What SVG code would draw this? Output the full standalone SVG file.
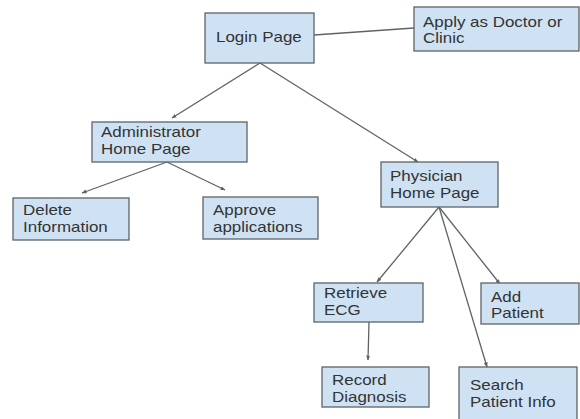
<svg xmlns="http://www.w3.org/2000/svg" width="580" height="419" viewBox="0 0 580 419">
<defs>
<style>
.box{fill:#cfe2f3;stroke:#5f6368;stroke-width:1.3}
.t{font-family:"Liberation Sans",Arial,sans-serif;font-size:15px;fill:#333333}
.c{stroke:#5f6368;stroke-width:1.3;fill:none}
.a{marker-end:url(#ah)}
</style>
<marker id="ah" viewBox="0 0 10 10" refX="9" refY="5" markerWidth="5" markerHeight="5" orient="auto" markerUnits="userSpaceOnUse">
<path d="M0,1 L10,5 L0,9 Z" fill="#5f6368"/>
</marker>
</defs>
<rect width="580" height="419" fill="#ffffff"/>
<g id="connectors">
<line class="c" x1="314" y1="35" x2="414" y2="28"/>
<line class="c a" x1="260" y1="63" x2="172" y2="118"/>
<line class="c a" x1="260" y1="63" x2="418" y2="162"/>
<line class="c a" x1="167" y1="162" x2="82" y2="193"/>
<line class="c a" x1="167" y1="162" x2="225" y2="190"/>
<line class="c a" x1="439" y1="207" x2="377" y2="282"/>
<line class="c a" x1="439" y1="207" x2="487" y2="367"/>
<line class="c a" x1="439" y1="207" x2="500" y2="284"/>
<line class="c a" x1="369" y1="322" x2="368" y2="360"/>
</g>
<g id="login"><rect class="box" x="205" y="13" width="109" height="50"/><text class="t" transform="translate(216,42) scale(1.13,1)">Login Page</text></g>
<g id="apply"><rect class="box" x="414" y="7" width="165" height="44"/><text class="t" transform="translate(423,27) scale(1.13,1)"><tspan x="0" y="0">Apply as Doctor or</tspan><tspan x="0" y="16.5">Clinic</tspan></text></g>
<g id="admin"><rect class="box" x="92" y="122" width="155" height="40"/><text class="t" transform="translate(101,137) scale(1.13,1)"><tspan x="0" y="0">Administrator</tspan><tspan x="0" y="17.5">Home Page</tspan></text></g>
<g id="delete"><rect class="box" x="13" y="198" width="116" height="42"/><text class="t" transform="translate(23,215) scale(1.13,1)"><tspan x="0" y="0">Delete</tspan><tspan x="0" y="17">Information</tspan></text></g>
<g id="approve"><rect class="box" x="203" y="197" width="115" height="42"/><text class="t" transform="translate(213,215) scale(1.13,1)"><tspan x="0" y="0">Approve</tspan><tspan x="0" y="17">applications</tspan></text></g>
<g id="physician"><rect class="box" x="381" y="162" width="117" height="45"/><text class="t" transform="translate(390,181) scale(1.13,1)"><tspan x="0" y="0">Physician</tspan><tspan x="0" y="17">Home Page</tspan></text></g>
<g id="retrieve"><rect class="box" x="314" y="283" width="109" height="39"/><text class="t" transform="translate(324,298) scale(1.13,1)"><tspan x="0" y="0">Retrieve</tspan><tspan x="0" y="17.5">ECG</tspan></text></g>
<g id="add"><rect class="box" x="481" y="283" width="98" height="41"/><text class="t" transform="translate(491,302) scale(1.13,1)"><tspan x="0" y="0">Add</tspan><tspan x="0" y="16.5">Patient</tspan></text></g>
<g id="record"><rect class="box" x="322" y="367" width="107" height="40"/><text class="t" transform="translate(332,385) scale(1.13,1)"><tspan x="0" y="0">Record</tspan><tspan x="0" y="17">Diagnosis</tspan></text></g>
<g id="search"><rect class="box" x="459" y="367" width="118" height="55"/><text class="t" transform="translate(470,390) scale(1.13,1)"><tspan x="0" y="0">Search</tspan><tspan x="0" y="17">Patient Info</tspan></text></g>
</svg>
